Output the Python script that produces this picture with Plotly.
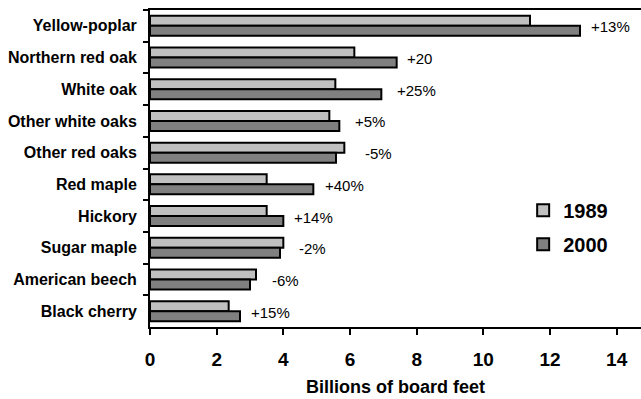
import plotly.graph_objects as go

species = ["Yellow-poplar", "Northern red oak", "White oak", "Other white oaks",
           "Other red oaks", "Red maple", "Hickory", "Sugar maple",
           "American beech", "Black cherry"]
vol_1989 = [11.4, 6.13, 5.56, 5.38, 5.83, 3.5, 3.5, 4.0, 3.18, 2.36]
vol_2000 = [12.9, 7.4, 6.94, 5.68, 5.58, 4.9, 4.0, 3.9, 3.0, 2.7]
change_labels = ["+13%", "+20", "+25%", "+5%", "-5%", "+40%", "+14%", "-2%", "-6%", "+15%"]
label_gap_px = [9, 8, 14, 14, 19, 10, 9, 14, 14, 9]
x_ticks = [0, 2, 4, 6, 8, 10, 12, 14]

FONT = "Liberation Sans, Arial, sans-serif"

fig = go.Figure()
fig.add_trace(go.Bar(name="1989", y=species, x=vol_1989, orientation="h", legendgroup="g1989",
                     marker=dict(color="#c0c0c0", line=dict(color="black", width=2))))
fig.add_trace(go.Bar(name="2000", y=species, x=vol_2000, orientation="h", legendgroup="g2000",
                     marker=dict(color="#808080", line=dict(color="black", width=2))))

for sp, a, b, lab, gap in zip(species, vol_1989, vol_2000, change_labels, label_gap_px):
    fig.add_annotation(x=max(a, b), y=sp, text=lab, showarrow=False,
                       xanchor="left", xshift=gap, yshift=-1,
                       font=dict(family=FONT, size=15, color="black"))

fig.update_layout(
    width=641, height=399,
    margin=dict(l=150, r=0, t=10, b=72),
    paper_bgcolor="white", plot_bgcolor="white",
    barmode="group", bargap=0.37, bargroupgap=0.0,
    font=dict(family=FONT, color="black"),
    legend=dict(x=0.76, y=0.43, xanchor="left", yanchor="top",
                font=dict(family=FONT, size=20, color="black", weight="bold"),
                itemwidth=30, tracegroupgap=5, bgcolor="rgba(0,0,0,0)"),
    xaxis=dict(range=[0, 14.73], tickvals=x_ticks, showgrid=False, zeroline=False,
               showline=True, linecolor="black", linewidth=2, mirror=True,
               ticks="outside", ticklen=6, tickwidth=2, tickcolor="black",
               ticklabelstandoff=8,
               tickfont=dict(family=FONT, size=19, color="black", weight="bold"),
               title=dict(text="Billions of board feet", standoff=12,
                          font=dict(family=FONT, size=18, color="black", weight="bold"))),
    yaxis=dict(autorange="reversed", showgrid=False, zeroline=False,
               showline=True, linecolor="black", linewidth=2,
               ticks="outside", ticklen=5, tickwidth=2, tickcolor="black",
               tickson="boundaries", ticklabelstandoff=8,
               tickfont=dict(family=FONT, size=16, color="black", weight="bold")),
)

fig.write_html("out.html")
